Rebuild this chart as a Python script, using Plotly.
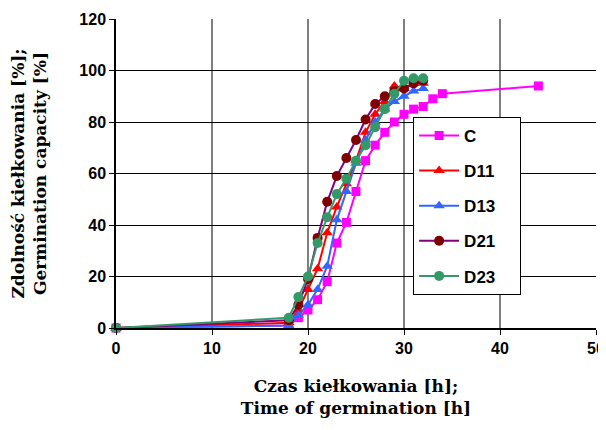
import plotly.graph_objects as go

# Data
hours_c = [0, 18, 19, 20, 21, 22, 23, 24, 25, 26, 27, 28, 29, 30, 31, 32, 33, 34, 44]
c_vals = [0, 1, 4, 7, 11, 18, 33, 41, 53, 65, 71, 76, 80, 83, 85, 86, 89, 91, 94]

hours_d = [0, 18, 19, 20, 21, 22, 23, 24, 25, 26, 27, 28, 29, 30, 31, 32]
d11_vals = [0, 2, 7, 15, 23, 37, 47, 56, 65, 76, 83, 88, 94, 93, 95, 95]
d13_vals = [0, 1, 5, 9, 15, 24, 42, 53, 64, 73, 80, 85, 88, 90, 92, 93]
d21_vals = [0, 3, 9, 19, 35, 49, 59, 66, 73, 81, 87, 90, 92, 93, 95, 96]
d23_vals = [0, 4, 12, 20, 33, 43, 52, 58, 65, 71, 78, 85, 91, 96, 97, 97]

x_ticks = [0, 10, 20, 30, 40, 50]
y_ticks = [0, 20, 40, 60, 80, 100, 120]

series = [
    ("C", hours_c, c_vals, "#FF00FF", "#FF00FF", "square", 9),
    ("D11", hours_d, d11_vals, "#FF0000", "#FF0000", "triangle-up", 10),
    ("D13", hours_d, d13_vals, "#3366FF", "#3366FF", "triangle-up", 10),
    ("D21", hours_d, d21_vals, "#800080", "#800000", "circle", 10),
    ("D23", hours_d, d23_vals, "#339966", "#339966", "circle", 10),
]

fig = go.Figure()
for name, xs, ys, lc, mc, sym, sz in series:
    fig.add_trace(go.Scatter(
        x=xs, y=ys, name=name + "\u00a0" * 4, mode="lines+markers",
        line=dict(color=lc, width=2),
        marker=dict(color=mc, symbol=sym, size=sz),
        legendgroup=name,
    ))

tick_font = dict(family="Liberation Sans", size=16, color="black", weight="bold")
title_font = dict(family="DejaVu Serif", size=17, color="black", weight="bold")

fig.update_layout(
    width=598, height=414,
    margin=dict(l=108, r=10, t=11, b=94),
    paper_bgcolor="white", plot_bgcolor="white",
    showlegend=True,
    legend=dict(
        x=0.619, y=0.683, xanchor="left", yanchor="top",
        bgcolor="white", bordercolor="black", borderwidth=1,
        font=dict(family="Liberation Sans", size=17, color="black", weight="bold"),
        traceorder="grouped", tracegroupgap=10,
        itemwidth=40,
    ),
    xaxis=dict(
        range=[0, 50], tickvals=x_ticks,
        showgrid=True, gridcolor="#808080", gridwidth=1.5,
        showline=True, linecolor="black", linewidth=1.5,
        ticks="outside", ticklen=5, tickcolor="black",
        zeroline=False, tickfont=tick_font, automargin=False,
        ticklabeloverflow="allow",
        title=dict(text="Czas kiełkowania [h];<br>Time of germination [h]",
                   font=title_font, standoff=24),
    ),
    yaxis=dict(
        range=[0, 120], tickvals=y_ticks,
        showgrid=True, gridcolor="black", gridwidth=1,
        showline=True, linecolor="black", linewidth=1.5,
        ticks="outside", ticklen=5, tickcolor="black",
        zeroline=False, tickfont=tick_font, automargin=False,
        title=dict(text="Zdolność kiełkowania [%];<br>Germination capacity [%]",
                   font=title_font, standoff=30),
    ),
)
fig.update_traces(cliponaxis=False)

fig.write_html("out.html")
